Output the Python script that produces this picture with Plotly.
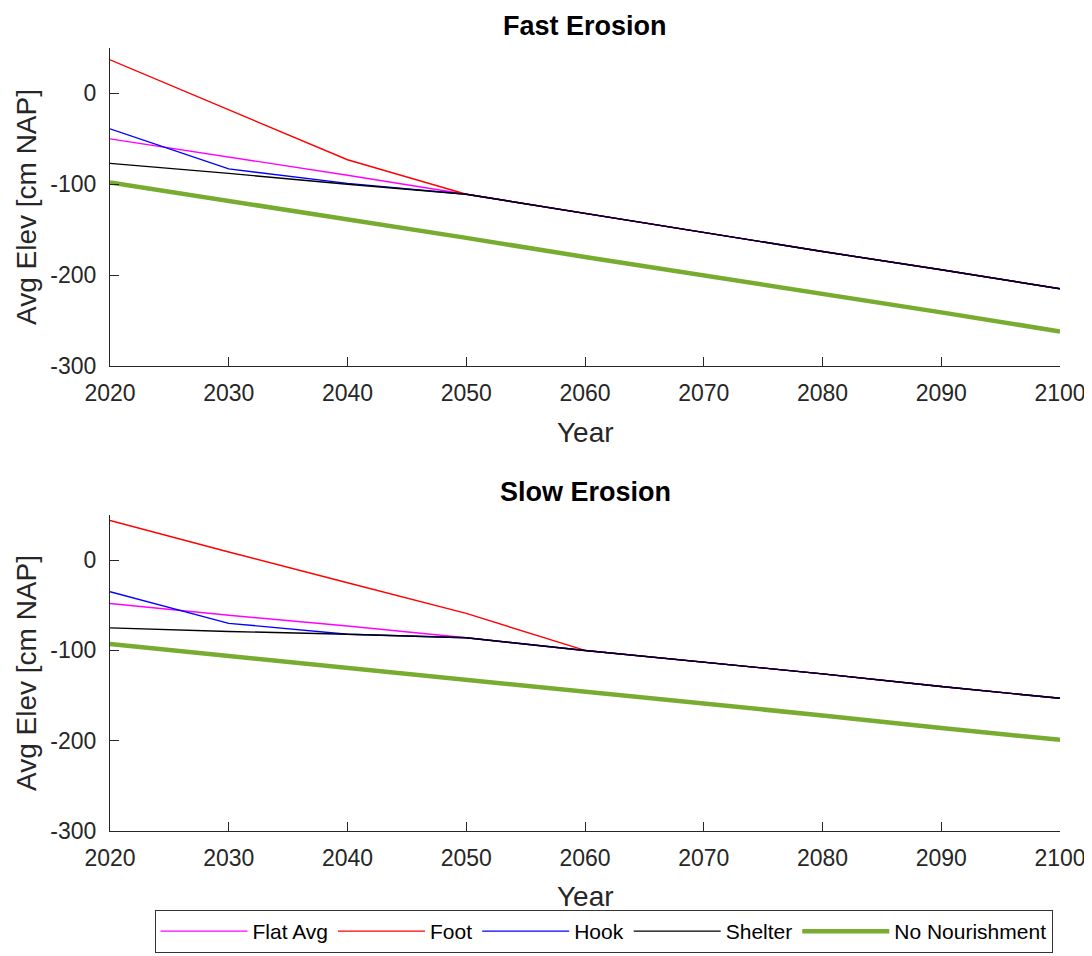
import plotly.graph_objects as go
from plotly.subplots import make_subplots

years = [2020, 2030, 2040, 2050, 2060, 2070, 2080, 2090, 2100]

# Fast erosion (top panel), cm NAP
fast_flat = [-50, -70, -90, -111, -132, -153, -174, -194, -215]
fast_foot = [37, -18, -73, -111, -132, -153, -174, -194, -215]
fast_hook = [-39, -83, -99, -111, -132, -153, -174, -194, -215]
fast_shelter = [-77, -88, -100, -111, -132, -153, -174, -194, -215]
fast_none = [-98, -118, -139, -159, -180, -200, -221, -241, -262]

# Slow erosion (bottom panel), cm NAP
slow_flat = [-48, -61, -73, -86, -100, -113, -126, -140, -153]
slow_foot = [44, 9, -25, -59, -100, -113, -126, -140, -153]
slow_hook = [-35, -70, -82, -86, -100, -113, -126, -140, -153]
slow_shelter = [-75, -79, -82, -86, -100, -113, -126, -140, -153]
slow_none = [-93, -106, -119, -133, -146, -159, -172, -186, -199]

titles = ["Fast Erosion", "Slow Erosion"]
names = ["Flat Avg", "Foot", "Hook", "Shelter", "No Nourishment"]
colors = ["#FF00FF", "#FF0000", "#0000FF", "#000000", "#77AC30"]
widths = [1.4, 1.4, 1.4, 1.4, 4.5]

panels = [
    [fast_flat, fast_foot, fast_hook, fast_shelter, fast_none],
    [slow_flat, slow_foot, slow_hook, slow_shelter, slow_none],
]

fig = make_subplots(rows=2, cols=1, vertical_spacing=0.19)

for r, series in enumerate(panels, start=1):
    for name, vals, col, w in zip(names, series, colors, widths):
        fig.add_trace(
            go.Scatter(
                x=years, y=vals, mode="lines", name=name,
                line=dict(color=col, width=w),
                showlegend=(r == 1),
            ),
            row=r, col=1,
        )

font_family = "Liberation Sans, Arial, sans-serif"
axis_col = "#262626"

# The page body adds an 8px offset, so the figure is 8px smaller each way
fig.update_layout(
    width=1084, height=948,
    margin=dict(l=102, r=32, t=40, b=125, autoexpand=False),
    plot_bgcolor="white", paper_bgcolor="white",
    font=dict(family=font_family, color=axis_col, size=21),
    legend=dict(
        orientation="h", x=(603.5 - 110) / 950, y=(831 - 910) / 783,
        xanchor="center", yanchor="top",
        bordercolor="#333333", borderwidth=1, bgcolor="white",
        font=dict(size=21, color="#000000"), itemwidth=87,
        traceorder="normal",
    ),
)

top_dom = [(831 - 366) / 783, 1.0]
bot_dom = [0.0, (831 - 515) / 783]

for i, dom in zip([1, 2], [top_dom, bot_dom]):
    fig.update_xaxes(
        row=i, col=1, range=[2020, 2100], tickmode="array",
        tickvals=years, ticktext=[str(y) for y in years],
        showline=True, linecolor=axis_col, linewidth=1,
        ticks="inside", ticklen=9, tickcolor=axis_col,
        showgrid=False, zeroline=False, automargin=False,
        ticklabelstandoff=6,
        tickfont=dict(size=23, color=axis_col, family=font_family),
    )
    fig.update_yaxes(
        row=i, col=1, range=[-300, 50], domain=dom,
        tickmode="array", tickvals=[-300, -200, -100, 0],
        ticktext=["-300", "-200", "-100", "0"],
        showline=True, linecolor=axis_col, linewidth=1,
        ticks="inside", ticklen=9, tickcolor=axis_col,
        showgrid=False, zeroline=False, automargin=False,
        ticklabelstandoff=8,
        tickfont=dict(size=23, color=axis_col, family=font_family),
    )

def py(p):
    return (831 - p) / 783

annots = [
    dict(text="<b>Fast Erosion</b>", x=0.5, y=py(26), size=27, angle=0, color="#000000"),
    dict(text="<b>Slow Erosion</b>", x=0.5, y=py(492), size=27, angle=0, color="#000000"),
    dict(text="Year", x=0.5, y=py(432), size=28, angle=0, color=axis_col),
    dict(text="Year", x=0.5, y=py(896), size=28, angle=0, color=axis_col),
    dict(text="Avg Elev [cm NAP]", x=(26 - 110) / 950, y=py(207), size=28, angle=-90, color=axis_col),
    dict(text="Avg Elev [cm NAP]", x=(26 - 110) / 950, y=py(673), size=28, angle=-90, color=axis_col),
]
for a in annots:
    fig.add_annotation(
        text=a["text"], x=a["x"], y=a["y"], xref="paper", yref="paper",
        xanchor="center", yanchor="middle", showarrow=False,
        textangle=a["angle"],
        font=dict(size=a["size"], color=a["color"], family=font_family),
    )

fig.write_html("out.html")
